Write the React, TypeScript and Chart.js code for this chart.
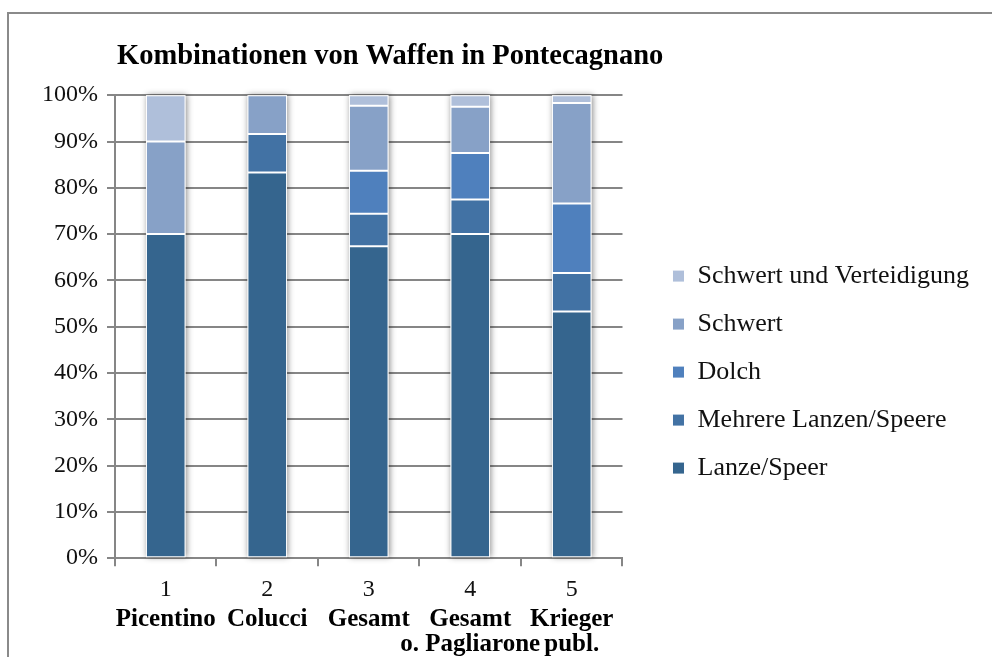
import React, { useEffect, useRef } from 'react';
import { Chart, registerables } from 'chart.js';

Chart.register(...registerables);

const chartTitle = 'Kombinationen von Waffen in Pontecagnano';
const categoryNumbers = ['1', '2', '3', '4', '5'];
const categoryNames = ['Picentino', 'Colucci', 'Gesamt', ['Gesamt', 'o. Pagliarone'], ['Krieger', 'publ.']];

const seriesNames = ['Lanze/Speer', 'Mehrere Lanzen/Speere', 'Dolch', 'Schwert', 'Schwert und Verteidigung'];
const lanzeSpeer = [70, 83.3, 67.4, 70, 53.3];
const mehrereLanzen = [0, 8.3, 7.0, 7.5, 8.3];
const dolch = [0, 0, 9.3, 10, 15];
const schwert = [20, 8.4, 14.0, 10, 21.7];
const schwertVerteidigung = [10, 0, 2.3, 2.5, 1.7];
const seriesColors = ['#35658E', '#4272A4', '#4F80BD', '#87A1C7', '#AFBFDA'];

const yMin = 0;
const yMax = 100;
const yStep = 10;

const FONT = "'Liberation Serif', 'Times New Roman', serif";
const GRID = '#868686';

const barShadow = {
  id: 'barShadow',
  beforeDatasetsDraw(chart: any) {
    const ctx = chart.ctx;
    const metas = chart.getSortedVisibleDatasetMetas();
    const n = chart.data.labels.length;
    ctx.save();
    ctx.shadowColor = 'rgba(0,0,0,0.45)';
    ctx.shadowBlur = 6;
    ctx.shadowOffsetX = 1;
    ctx.shadowOffsetY = 0;
    ctx.fillStyle = '#ffffff';
    for (let i = 0; i < n; i++) {
      let top = Infinity;
      let bottom = -Infinity;
      let x = 0;
      let w = 0;
      metas.forEach((m: any) => {
        const el = m.data[i];
        if (!el) return;
        const p = el.getProps(['x', 'y', 'base', 'width'], true);
        top = Math.min(top, p.y, p.base);
        bottom = Math.max(bottom, p.y, p.base);
        x = p.x;
        w = p.width;
      });
      if (isFinite(top)) ctx.fillRect(x - w / 2, top, w, bottom - top);
    }
    ctx.restore();
  },
};

const titleShift = {
  id: 'titleShift',
  afterLayout(chart: any) {
    const tb = chart.titleBlock;
    if (tb) tb.left = chart.chartArea.left + 2;
  },
};

export default function App() {
  const ref = useRef<HTMLCanvasElement | null>(null);

  useEffect(() => {
    if (!ref.current) return;
    const series = [lanzeSpeer, mehrereLanzen, dolch, schwert, schwertVerteidigung];
    const chart = new Chart(ref.current, {
      type: 'bar',
      data: {
        labels: categoryNumbers,
        datasets: series.map((d, i) => ({
          label: seriesNames[i],
          data: d,
          backgroundColor: seriesColors[i],
          borderColor: '#ffffff',
          borderWidth: 1,
          borderSkipped: false,
          categoryPercentage: 1,
          barPercentage: 0.39,
          xAxisID: 'x',
          yAxisID: 'y',
        })),
      },
      options: {
        responsive: false,
        animation: false,
        layout: { padding: { left: 0, right: 13, top: 0, bottom: 0 } },
        plugins: {
          tooltip: { enabled: false },
          title: {
            display: true,
            text: chartTitle,
            align: 'start',
            color: '#000',
            font: { family: FONT, size: 28.5, weight: 'bold' },
            padding: { top: 40, bottom: 21 },
          },
          legend: {
            position: 'right',
            align: 'center',
            reverse: true,
            maxWidth: 420,
            title: { display: true, text: ' ', padding: { top: 56, bottom: 0 }, font: { family: FONT, size: 26 } },
            labels: {
              boxWidth: 12,
              boxHeight: 12,
              padding: 22,
              color: '#111',
              font: { family: FONT, size: 26 },
            },
          },
        },
        scales: {
          x: {
            type: 'category',
            stacked: true,
            position: 'bottom',
            offset: true,
            grid: { offset: true, drawOnChartArea: false, drawTicks: true, tickLength: 8, color: GRID, lineWidth: 2 },
            border: { display: true, color: GRID, width: 2 },
            ticks: { color: '#111', padding: 9, autoSkip: false, maxRotation: 0, font: { family: FONT, size: 24 } },
            afterFit: (s: any) => {
              s.height = s.height - 6;
            },
          },
          x2: {
            type: 'category',
            axis: 'x',
            position: 'bottom',
            labels: categoryNames as any,
            offset: true,
            grid: { display: false, drawTicks: false },
            border: { display: false },
            ticks: {
              color: '#000',
              padding: 0,
              autoSkip: false,
              maxRotation: 0,
              font: { family: FONT, size: 25, weight: 'bold', lineHeight: 1.0 },
            },
          },
          y: {
            type: 'linear',
            stacked: true,
            min: yMin,
            max: yMax,
            ticks: {
              stepSize: yStep,
              color: '#111',
              padding: 9,
              font: { family: FONT, size: 24 },
              callback: (v: any) => v + '%',
            },
            grid: { color: GRID, lineWidth: 2, tickLength: 8, drawTicks: true },
            border: { display: true, color: GRID, width: 2 },
            afterFit: (s: any) => {
              s.width = 115;
            },
          },
          y2: {
            type: 'linear',
            position: 'right',
            display: true,
            grid: { display: false, drawTicks: false },
            border: { display: false },
            ticks: { display: false },
            afterFit: (s: any) => {
              s.width = 28;
            },
          },
        },
      },
      plugins: [barShadow, titleShift],
    } as any);
    return () => chart.destroy();
  }, []);

  return (
    <div style={{ position: 'fixed', left: 0, top: 0, width: 992, height: 657, overflow: 'hidden', background: '#fff' }}>
      <div
        style={{
          position: 'absolute',
          left: 7,
          top: 12,
          width: 1100,
          height: 800,
          border: '2px solid #8a8a8a',
          boxSizing: 'border-box',
        }}
      />
      <canvas ref={ref} width={992} height={657} style={{ position: 'absolute', left: 0, top: 0, width: 992, height: 657 }} />
    </div>
  );
}
